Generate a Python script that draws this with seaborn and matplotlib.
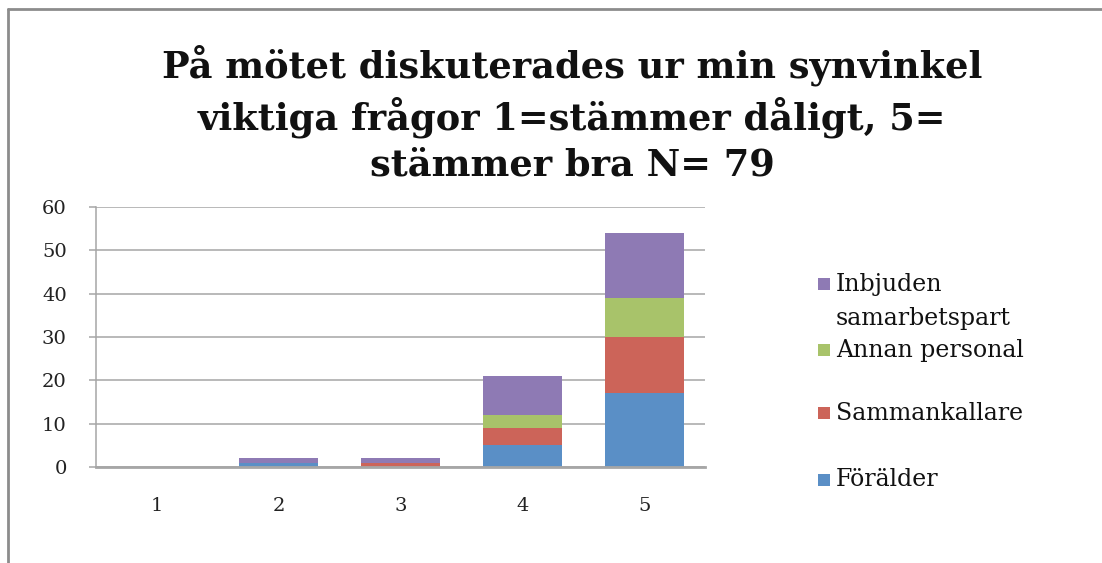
import numpy as np
import pandas as pd
import matplotlib
matplotlib.use("Agg")
import matplotlib.pyplot as plt
from matplotlib.lines import Line2D
from matplotlib.patches import Rectangle
import seaborn as sns

# data (stacked counts per answer)
categories = ["1", "2", "3", "4", "5"]
forvalder = [0, 1, 0, 5, 17]
sammankallare = [0, 0, 1, 4, 13]
annan_personal = [0, 0, 0, 3, 9]
inbjuden = [0, 1, 1, 9, 15]

series_names = ["Förälder", "Sammankallare", "Annan personal", "Inbjuden\nsamarbetspart"]
colors = ["#5A8FC6", "#CC6459", "#A8C36A", "#8E7AB4"]

title = "På mötet diskuterades ur min synvinkel\nviktiga frågor 1=stämmer dåligt, 5=\nstämmer bra N= 79"

W, H = 1102, 563


def px(x, y):
    # pixel position (from top-left) -> figure fraction
    return x / W, 1 - y / H


def main():
    sns.set_style("white")
    plt.rcParams["font.family"] = ["DejaVu Serif"]

    df = pd.DataFrame({
        "svar": categories,
        series_names[0]: forvalder,
        series_names[1]: sammankallare,
        series_names[2]: annan_personal,
        series_names[3]: inbjuden,
    })

    fig = plt.figure(figsize=(W / 100, H / 100), dpi=100)
    ax = fig.add_axes([96 / W, (H - 467) / H, 609 / W, 260 / H])

    bottom = np.zeros(len(categories))
    for name, col in zip(series_names, colors):
        vals = df[name].to_numpy(dtype=float)
        sns.barplot(x="svar", y=name, data=df, color=col, bottom=bottom,
                    width=0.65, ax=ax, saturation=1, linewidth=0,
                    order=categories, errorbar=None)
        bottom = bottom + vals

    ax.set_xlim(-0.5, 4.5)
    ax.set_ylim(0, 60)
    ax.set_yticks(range(0, 61, 10))
    ax.set_xlabel("")
    ax.set_ylabel("")
    ax.yaxis.grid(True, color="#A6A6A6", linewidth=1.1)
    ax.set_axisbelow(True)
    for s in ["top", "right"]:
        ax.spines[s].set_visible(False)
    ax.spines["left"].set_color("#A6A6A6")
    ax.spines["left"].set_linewidth(1.1)
    ax.spines["bottom"].set_color("#A6A6A6")
    ax.spines["bottom"].set_linewidth(2)
    ax.tick_params(axis="y", which="both", left=True, length=5, width=1.1,
                   color="#A6A6A6", labelsize=14, labelcolor="#222222", pad=16)
    ax.tick_params(axis="x", bottom=False, labelsize=14, labelcolor="#222222", pad=18)

    tx, ty = px(572, 114)
    fig.text(tx, ty, title, ha="center", va="center", fontsize=26.5,
             fontweight="bold", linespacing=1.32, color="#111111")

    # legend drawn Excel-style: equal slots, top entry first
    slot_y = [284, 350, 413, 480]
    for name, col, y in zip(series_names[::-1], colors[::-1], slot_y):
        x0, y0 = px(818, y + 6)
        fig.add_artist(Rectangle((x0, y0), 12 / W, 12 / H, transform=fig.transFigure,
                                 facecolor=col, edgecolor="none"))
        for i, line in enumerate(name.split("\n")):
            lx, ly = px(836, y + 34 * i)
            fig.text(lx, ly, line, ha="left", va="center", fontsize=17,
                     color="#111111")

    # outer frame lines (top and left only are visible)
    fig.add_artist(Line2D([8 / W, 8 / W], [0, 1 - 9 / H], transform=fig.transFigure,
                          color="#8C8C8C", linewidth=2))
    fig.add_artist(Line2D([8 / W, 1.0], [1 - 9 / H, 1 - 9 / H], transform=fig.transFigure,
                          color="#8C8C8C", linewidth=2))

    fig.savefig("out.png", dpi=100)


if __name__ == "__main__":
    main()
